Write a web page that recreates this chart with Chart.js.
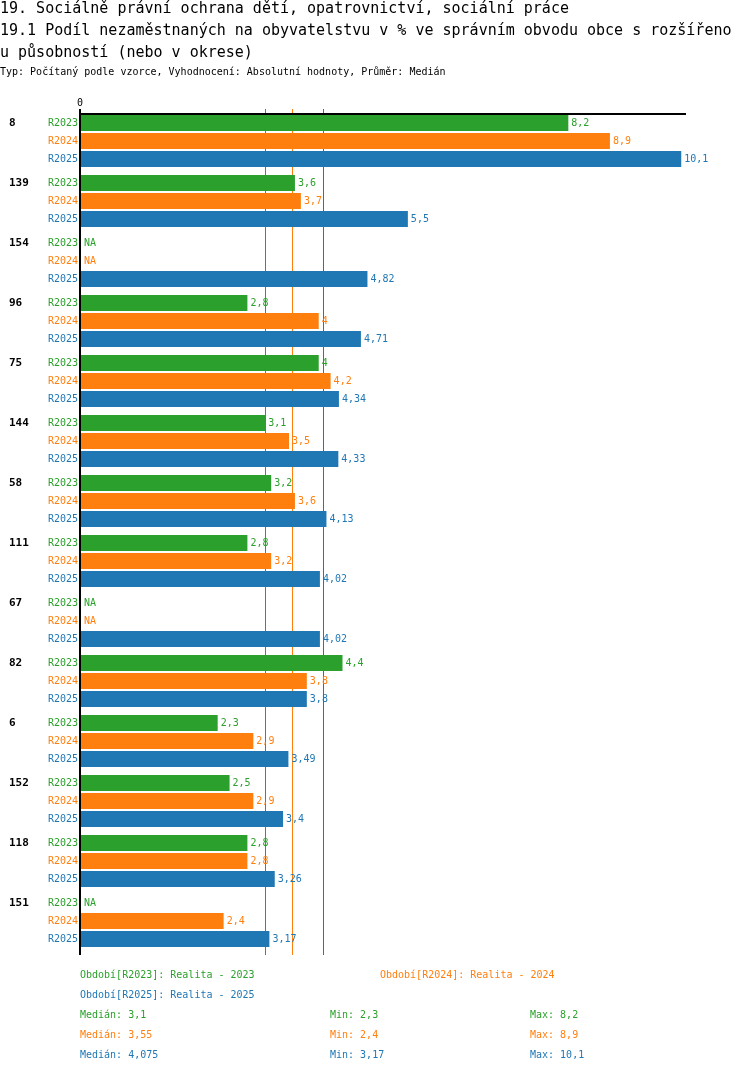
<!DOCTYPE html>
<html>
<head>
<meta charset="utf-8">
<script src="https://cdn.jsdelivr.net/npm/chart.js@4.4.1/dist/chart.umd.min.js"></script>
<style>
  html, body { margin:0; padding:0; background:#fff; }
  body { width:750px; height:1074px; position:relative; overflow:hidden; font-family:"DejaVu Sans Mono", monospace; }
  #c { position:absolute; left:0; top:0; }
  .t { position:absolute; white-space:nowrap; line-height:1; }
  .title { font-size:15px; color:#000; left:0; }
  .sub { font-size:10px; color:#000; left:0; }
  .leg { font-size:10px; }
</style>
</head>
<body>
<canvas id="c" width="750" height="1074"></canvas>
<div class="t title" style="top:1px">19. Sociálně právní ochrana dětí, opatrovnictví, sociální práce</div>
<div class="t title" style="top:23px">19.1 Podíl nezaměstnaných na obyvatelstvu v % ve správním obvodu obce s rozšířeno</div>
<div class="t title" style="top:45px">u působností (nebo v okrese)</div>
<div class="t sub" style="top:67px">Typ: Počítaný podle vzorce, Vyhodnocení: Absolutní hodnoty, Průměr: Medián</div>
<div id="legend"></div>
<script>
const categories = ["8","139","154","96","75","144","58","111","67","82","6","152","118","151"];
const seriesNames = ["R2023","R2024","R2025"];
const r2023 = [8.2, 3.6, null, 2.8, 4, 3.1, 3.2, 2.8, null, 4.4, 2.3, 2.5, 2.8, null];
const r2024 = [8.9, 3.7, null, 4, 4.2, 3.5, 3.6, 3.2, null, 3.8, 2.9, 2.9, 2.8, 2.4];
const r2025 = [10.1, 5.5, 4.82, 4.71, 4.34, 4.33, 4.13, 4.02, 4.02, 3.8, 3.49, 3.4, 3.26, 3.17];
const legendTexts = ["Období[R2023]: Realita - 2023","Období[R2024]: Realita - 2024","Období[R2025]: Realita - 2025"];
const colors = ["#2ca02c","#ff7f0e","#1f77b4"];
const seriesData = [r2023, r2024, r2025];

function median(a){ const v=a.filter(x=>x!==null).sort((p,q)=>p-q); const n=v.length; return n%2?v[(n-1)/2]:(v[n/2-1]+v[n/2])/2; }
function fmt(v){ return String(Math.round(v*1000)/1000).replace('.',','); }
const medians = seriesData.map(median);
const mins = seriesData.map(a=>Math.min(...a.filter(x=>x!==null)));
const maxs = seriesData.map(a=>Math.max(...a.filter(x=>x!==null)));

const L = document.getElementById('legend');
function addText(txt, x, y, col){ const d=document.createElement('div'); d.className='t leg'; d.style.left=x+'px'; d.style.top=y+'px'; d.style.color=col; d.textContent=txt; L.appendChild(d); }
addText(legendTexts[0], 80, 970, colors[0]);
addText(legendTexts[1], 380, 970, colors[1]);
addText(legendTexts[2], 80, 990, colors[2]);
for (let s=0;s<3;s++){
  const y = 1010 + s*20;
  addText("Medián: "+fmt(medians[s]), 80, y, colors[s]);
  addText("Min: "+fmt(mins[s]), 330, y, colors[s]);
  addText("Max: "+fmt(maxs[s]), 530, y, colors[s]);
}

const MONO = '"DejaVu Sans Mono", monospace';
const decor = {
  id:'decor',
  beforeDatasetsDraw(chart){
    const ctx = chart.ctx, xs = chart.scales.x, ca = chart.chartArea;
    const topLine = ca.top + 3;
    ctx.save();
    for (let s=0;s<3;s++){
      const mx = Math.round(xs.getPixelForValue(medians[s]));
      ctx.fillStyle = colors[s];
      ctx.fillRect(mx, topLine-5, 1, ca.bottom + 4 - (topLine-5));
    }
    ctx.restore();
  },
  afterDatasetsDraw(chart){
    const ctx = chart.ctx, xs = chart.scales.x, ca = chart.chartArea;
    const x0 = xs.getPixelForValue(0);
    const topLine = ca.top + 3;
    ctx.save();
    ctx.fillStyle = '#000';
    ctx.fillRect(x0-2, topLine-5, 2, ca.bottom + 4 - (topLine-5));
    ctx.fillRect(x0-2, topLine-1, ca.right-(x0-2), 2);
    ctx.font = '10px '+MONO; ctx.textAlign='center'; ctx.textBaseline='middle';
    ctx.fillText('0', x0-1, topLine-11);
    for (let s=0;s<3;s++){
      const meta = chart.getDatasetMeta(s);
      meta.data.forEach((el, i) => {
        const y = el.y;
        ctx.fillStyle = colors[s];
        ctx.font = '10px '+MONO; ctx.textBaseline='middle';
        ctx.textAlign='right';
        ctx.fillText(seriesNames[s], x0-3, y);
        ctx.textAlign='left';
        const v = seriesData[s][i];
        if (v === null) ctx.fillText('NA', x0+3, y);
        else ctx.fillText(fmt(v), xs.getPixelForValue(v)+3, y);
        if (s===0){
          ctx.fillStyle='#000'; ctx.font='bold 11px '+MONO; ctx.textAlign='left';
          ctx.fillText(categories[i], 9, y);
        }
      });
    }
    ctx.restore();
  }
};

new Chart(document.getElementById('c'), {
  type:'bar',
  data:{
    labels: categories,
    datasets: seriesData.map((d,s)=>({ label: seriesNames[s], data: d, backgroundColor: colors[s], borderWidth:0, barPercentage: 16/18, categoryPercentage: 0.9 }))
  },
  options:{
    indexAxis:'y',
    responsive:false,
    animation:false,
    devicePixelRatio:1,
    layout:{ padding:{ left:81, right:64, top:111, bottom:123 } },
    plugins:{ legend:{display:false}, tooltip:{enabled:false} },
    scales:{
      x:{ display:false, min:0, max:10.18 },
      y:{ display:false, grid:{display:false} }
    }
  },
  plugins:[decor]
});
</script>
</body>
</html>
